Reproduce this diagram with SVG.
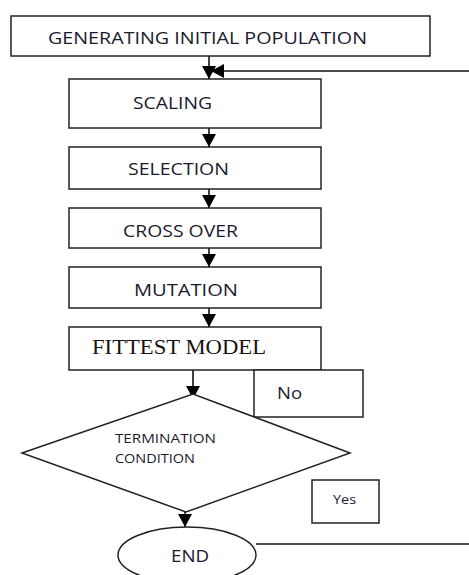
<svg xmlns="http://www.w3.org/2000/svg" width="469" height="575" viewBox="0 0 469 575">
<style>
.box{fill:#fff;stroke:#222;stroke-width:1.5}
.t{font-family:"Open Sans","Liberation Sans",sans-serif;fill:#1a1a2e}
.c{stroke:#111;stroke-width:1.6;fill:none}
</style>
<defs>
<marker id="ah" viewBox="0 0 13 14" refX="13" refY="7" markerWidth="13" markerHeight="14" markerUnits="userSpaceOnUse" orient="auto">
<path d="M0,0 L13,7 L0,14 Z" fill="#000"/>
</marker>
</defs>
<rect width="469" height="575" fill="#fff"/>
<g id="connectors">
<line class="c" x1="209" y1="56" x2="209" y2="79" marker-end="url(#ah)"/>
<line class="c" x1="469" y1="71" x2="211" y2="71" marker-end="url(#ah)"/>
<line class="c" x1="209" y1="128" x2="209" y2="147" marker-end="url(#ah)"/>
<line class="c" x1="209" y1="189" x2="209" y2="208" marker-end="url(#ah)"/>
<line class="c" x1="209" y1="248" x2="209" y2="267" marker-end="url(#ah)"/>
<line class="c" x1="209" y1="308" x2="209" y2="327" marker-end="url(#ah)"/>
<line class="c" x1="193" y1="370" x2="193" y2="399" marker-end="url(#ah)"/>
<line class="c" x1="185" y1="511" x2="185" y2="527" marker-end="url(#ah)"/>
<line class="c" x1="256" y1="544" x2="469" y2="544"/>
</g>
<g id="generating">
<rect class="box" x="11" y="16" width="419" height="40"/>
<text class="t" x="48" y="44" font-size="16" textLength="319" lengthAdjust="spacingAndGlyphs">GENERATING INITIAL POPULATION</text>
</g>
<g id="scaling">
<rect class="box" x="69" y="79" width="252" height="49"/>
<text class="t" x="133" y="109" font-size="16" textLength="79" lengthAdjust="spacingAndGlyphs">SCALING</text>
</g>
<g id="selection">
<rect class="box" x="69" y="147" width="252" height="42"/>
<text class="t" x="128" y="175" font-size="16" textLength="101" lengthAdjust="spacingAndGlyphs">SELECTION</text>
</g>
<g id="crossover">
<rect class="box" x="69" y="208" width="252" height="40"/>
<text class="t" x="123" y="237" font-size="16" textLength="115" lengthAdjust="spacingAndGlyphs">CROSS OVER</text>
</g>
<g id="mutation">
<rect class="box" x="69" y="267" width="252" height="41"/>
<text class="t" x="134" y="296" font-size="16" textLength="104" lengthAdjust="spacingAndGlyphs">MUTATION</text>
</g>
<g id="fittest">
<rect class="box" x="69" y="327" width="252" height="43"/>
<text x="92" y="354" font-size="21" font-family="'Liberation Serif',serif" fill="#1a1010" textLength="174" lengthAdjust="spacingAndGlyphs">FITTEST MODEL</text>
</g>
<g id="no">
<rect class="box" x="254" y="370" width="109" height="47"/>
<text class="t" x="277" y="399" font-size="16" textLength="25" lengthAdjust="spacingAndGlyphs">No</text>
</g>
<g id="termination">
<polygon class="box" points="22,453 193,394 350,453 186,512"/>
<text class="t" x="115" y="443" font-size="12" textLength="101" lengthAdjust="spacingAndGlyphs">TERMINATION</text>
<text class="t" x="115" y="463" font-size="12" textLength="80" lengthAdjust="spacingAndGlyphs">CONDITION</text>
</g>
<g id="yes">
<rect class="box" x="312" y="480" width="67" height="43"/>
<text class="t" x="333" y="504" font-size="12" textLength="23" lengthAdjust="spacingAndGlyphs">Yes</text>
</g>
<g id="end">
<ellipse class="box" cx="187" cy="555" rx="69" ry="28"/>
<text class="t" x="171" y="562" font-size="16" textLength="38" lengthAdjust="spacingAndGlyphs">END</text>
</g>
</svg>
